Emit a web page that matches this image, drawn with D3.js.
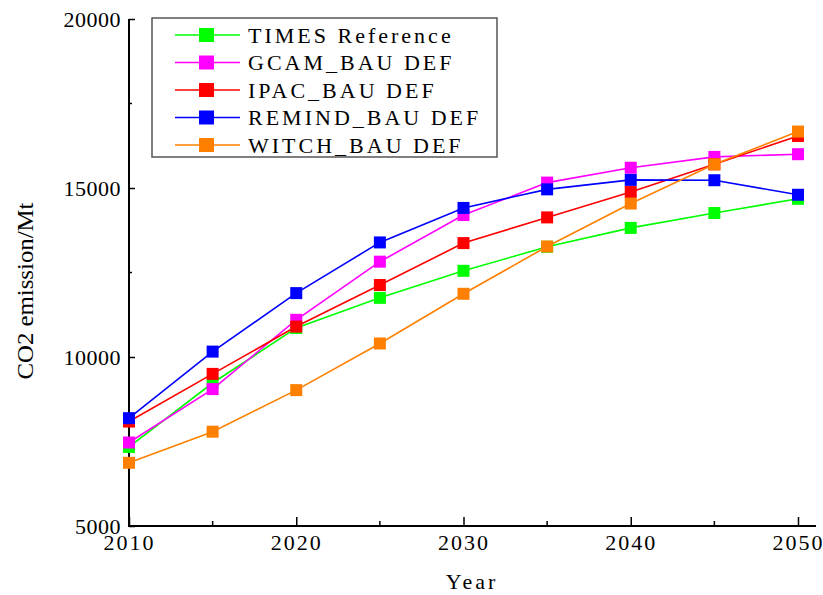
<!DOCTYPE html>
<html>
<head>
<meta charset="utf-8">
<script src="https://cdn.jsdelivr.net/npm/d3@7"></script>
<style>
  body { margin: 0; background: #fff; }
  text { font-family: "Liberation Serif", "DejaVu Serif", serif; fill: #000; }
</style>
</head>
<body>
<svg id="chart" width="823" height="595"></svg>
<script>
const years = [2010, 2015, 2020, 2025, 2030, 2035, 2040, 2045, 2050];
const seriesNames = ["TIMES Reference", "GCAM_BAU DEF", "IPAC_BAU DEF", "REMIND_BAU DEF", "WITCH_BAU DEF"];
const seriesColors = ["#00ff00", "#ff00ff", "#ff0000", "#0000ff", "#ff8000"];
const timesRef = [7340, 9230, 10860, 11750, 12550, 13260, 13820, 14260, 14680];
const gcamBau  = [7470, 9050, 11100, 12820, 14200, 15160, 15600, 15920, 16000];
const ipacBau  = [8090, 9500, 10900, 12130, 13370, 14130, 14880, 15700, 16540];
const remindBau = [8190, 10160, 11890, 13390, 14410, 14960, 15240, 15230, 14800];
const witchBau = [6870, 7790, 9020, 10400, 11870, 13270, 14540, 15700, 16670];
const allSeries = [timesRef, gcamBau, ipacBau, remindBau, witchBau];
const xTicks = [2010, 2020, 2030, 2040, 2050];
const yTicks = [5000, 10000, 15000, 20000];

const svg = d3.select("#chart");

// scales (plot area)
const x = d3.scaleLinear().domain([2010, 2050]).range([129, 798]);
const y = d3.scaleLinear().domain([5000, 20000]).range([526, 19]);

// axes - ticks point inward
const xAxis = d3.axisBottom(x).tickValues(xTicks).tickFormat(d3.format("d"))
  .tickSizeInner(-9).tickSizeOuter(0).tickPadding(13);
const gx = svg.append("g").attr("transform", "translate(0,526)").call(xAxis);
gx.select(".domain").remove();
gx.selectAll("text").attr("font-size", 22).attr("letter-spacing", 2).attr("dy", "0.5em");
gx.selectAll("line").attr("stroke-width", 1.5);
// minor x ticks
svg.append("g").selectAll("line")
  .data([2015, 2025, 2035, 2045]).join("line")
  .attr("x1", d => x(d)).attr("x2", d => x(d))
  .attr("y1", 526).attr("y2", 521)
  .attr("stroke", "#000").attr("stroke-width", 1.5);

const yAxis = d3.axisLeft(y).tickValues(yTicks).tickFormat(d3.format("d"))
  .tickSizeInner(-6).tickSizeOuter(0).tickPadding(8);
const gy = svg.append("g").attr("transform", "translate(129,0)").call(yAxis);
gy.select(".domain").remove();
gy.selectAll("text").attr("font-size", 22).attr("letter-spacing", 0.5);
gy.selectAll("line").attr("stroke-width", 1.5);
svg.append("g").selectAll("line")
  .data([7500, 12500, 17500]).join("line")
  .attr("x1", 129).attr("x2", 132)
  .attr("y1", d => y(d)).attr("y2", d => y(d))
  .attr("stroke", "#000").attr("stroke-width", 1.5);

// axis lines
svg.append("line").attr("x1", 129).attr("x2", 129).attr("y1", 19).attr("y2", 527)
  .attr("stroke", "#000").attr("stroke-width", 2);
svg.append("line").attr("x1", 128).attr("x2", 816).attr("y1", 526).attr("y2", 526)
  .attr("stroke", "#000").attr("stroke-width", 2);

// axis titles
svg.append("text").attr("x", 472).attr("y", 589).attr("text-anchor", "middle")
  .attr("font-size", 22).attr("letter-spacing", 3).text("Year");
svg.append("text").attr("transform", "translate(33,291) rotate(-90)")
  .attr("text-anchor", "middle").attr("font-size", 23)
  .attr("textLength", 177).attr("lengthAdjust", "spacingAndGlyphs")
  .text("CO2 emission/Mt");

// lines and markers
const line = d3.line().x((d, i) => x(years[i])).y(d => y(d));
allSeries.forEach((vals, s) => {
  const g = svg.append("g");
  g.append("path").datum(vals).attr("d", line)
    .attr("fill", "none").attr("stroke", seriesColors[s]).attr("stroke-width", 1.6);
  g.selectAll("rect").data(vals).join("rect")
    .attr("x", (d, i) => x(years[i]) - 6).attr("y", d => y(d) - 6)
    .attr("width", 12).attr("height", 12).attr("fill", seriesColors[s]);
});

// legend
const legend = svg.append("g");
legend.append("rect").attr("x", 152).attr("y", 18).attr("width", 345).attr("height", 139)
  .attr("fill", "#fff").attr("stroke", "#555").attr("stroke-width", 1.5);
seriesNames.forEach((name, i) => {
  const ly = 35 + i * 27.5;
  legend.append("line").attr("x1", 175).attr("x2", 240).attr("y1", ly).attr("y2", ly)
    .attr("stroke", seriesColors[i]).attr("stroke-width", 1.6);
  legend.append("rect").attr("x", 199).attr("y", ly - 7).attr("width", 15).attr("height", 14)
    .attr("fill", seriesColors[i]);
  legend.append("text").attr("x", 248).attr("y", ly).attr("dy", "0.35em")
    .attr("font-size", 22).attr("letter-spacing", 3).text(name);
});
</script>
</body>
</html>
